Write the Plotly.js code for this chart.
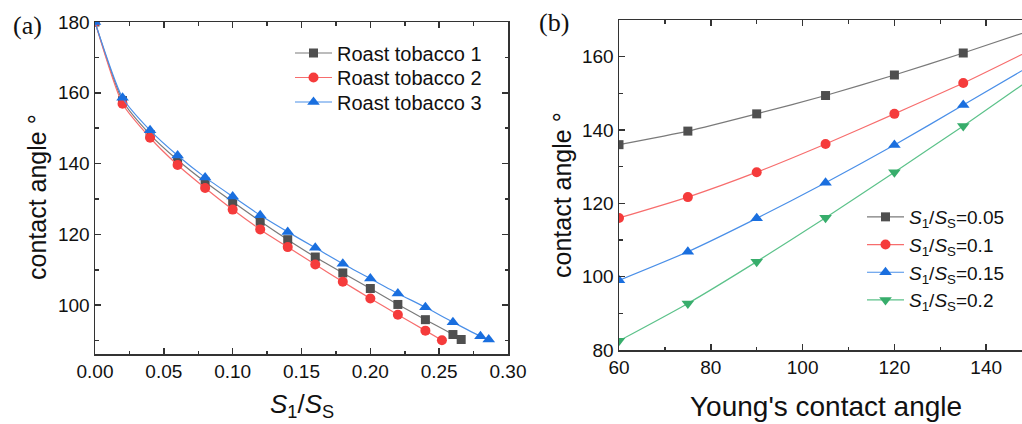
<!DOCTYPE html>
<html>
<head>
<meta charset="utf-8">
<script src="https://cdn.plot.ly/plotly-3.0.1.min.js"></script>
<style>html,body{margin:0;padding:0;background:#fff;overflow:hidden}#chart{width:1022px;height:424px}</style>
</head>
<body>
<div id="chart"></div>
<script>
// Panel (a): contact angle vs S1/SS
const xA1 = [0, 0.02, 0.04, 0.06, 0.08, 0.10, 0.12, 0.14, 0.16, 0.18, 0.20, 0.22, 0.24, 0.26, 0.266];
const yA1 = [180, 157.8, 148.2, 141.0, 134.8, 129.2, 123.7, 118.5, 113.6, 109.1, 104.7, 100.2, 95.9, 91.7, 90.3];
const xA2 = [0, 0.02, 0.04, 0.06, 0.08, 0.10, 0.12, 0.14, 0.16, 0.18, 0.20, 0.22, 0.24, 0.252];
const yA2 = [180, 156.9, 147.3, 139.6, 133.1, 127.0, 121.4, 116.4, 111.5, 106.6, 101.9, 97.3, 92.8, 90.1];
const xA3 = [0, 0.02, 0.04, 0.06, 0.08, 0.10, 0.12, 0.14, 0.16, 0.18, 0.20, 0.22, 0.24, 0.26, 0.28, 0.286];
const yA3 = [180, 158.6, 149.4, 142.3, 136.1, 130.7, 125.4, 120.7, 116.2, 111.7, 107.5, 103.3, 99.4, 95.2, 91.2, 90.3];
const namesA = ["Roast tobacco 1", "Roast tobacco 2", "Roast tobacco 3"];

// Panel (b): contact angle vs Young's contact angle
const xB = [60, 75, 90, 105, 120, 135, 150];
const yB005 = [136.0, 139.7, 144.4, 149.4, 155.0, 161.0, 167.3];
const yB010 = [116.0, 121.7, 128.5, 136.2, 144.4, 152.8, 162.0];
const yB015 = [99.0, 106.8, 115.9, 125.6, 135.9, 146.8, 157.8];
const yB020 = [82.5, 92.7, 104.1, 116.1, 128.5, 141.1, 154.2];
const namesB = ["<i>S</i><sub>1</sub>/<i>S</i><sub>S</sub>=0.05", "<i>S</i><sub>1</sub>/<i>S</i><sub>S</sub>=0.1",
                "<i>S</i><sub>1</sub>/<i>S</i><sub>S</sub>=0.15", "<i>S</i><sub>1</sub>/<i>S</i><sub>S</sub>=0.2"];

const colors = ["#4f4f4f", "#F53B3B", "#1A6FDF", "#37AD6B"];
const lineColors = ["#7a7a7a", "#f76d6d", "#4a8fe8", "#5cc28a"];
const W = 1022, H = 424;
const px = v => v / W, py = v => (H - v) / H;

function tr(x, y, name, i, sym, size, xa, ya, leg) {
  return {x: x, y: y, name: name, type: "scatter", mode: "lines+markers",
    xaxis: xa, yaxis: ya, legend: leg,
    line: {color: lineColors[i], width: 1.2, shape: "spline", smoothing: 0.6},
    marker: {color: colors[i], symbol: sym, size: size}};
}

const data = [
  tr(xA1, yA1, namesA[0], 0, "square", 9, "x", "y", "legend"),
  tr(xA2, yA2, namesA[1], 1, "circle", 10, "x", "y", "legend3"),
  tr(xA3, yA3, namesA[2], 2, "triangle-up", 11, "x", "y", "legend4"),
  tr(xB, yB005, namesB[0], 0, "square", 9, "x2", "y2", "legend2"),
  tr(xB, yB010, namesB[1], 1, "circle", 10, "x2", "y2", "legend2"),
  tr(xB, yB015, namesB[2], 2, "triangle-up", 11, "x2", "y2", "legend2"),
  tr(xB, yB020, namesB[3], 3, "triangle-down", 11, "x2", "y2", "legend2")
];

const axCommon = {showgrid: false, zeroline: false, showline: true, linecolor: "#333", linewidth: 1.5,
  ticks: "inside", ticklen: 6, tickwidth: 1.5, tickcolor: "#333",
  tickfont: {family: "Liberation Sans, Arial", size: 19, color: "#111"}};
const minorT = d => ({ticks: "inside", ticklen: 3.5, dtick: d, tickcolor: "#333", tickwidth: 1.5});

const legA = y => ({x: px(290), y: py(y), xanchor: "left", yanchor: "top", bgcolor: "rgba(0,0,0,0)",
  font: {family: "Liberation Sans, Arial", size: 20, color: "#111"}, itemwidth: 37});

const ann = (text, x, y, size, family, extra) => Object.assign({text: text, x: px(x), y: py(y),
  xref: "paper", yref: "paper", showarrow: false, xanchor: "center", yanchor: "middle",
  font: {family: family, size: size, color: "#111"}}, extra || {});

const layout = {
  width: W, height: H, margin: {l: 0, r: 0, t: 0, b: 0},
  paper_bgcolor: "#fff", plot_bgcolor: "#fff", showlegend: true,
  font: {family: "Liberation Sans, Arial", color: "#111"},
  xaxis: Object.assign({}, axCommon, {domain: [px(95), px(508)], range: [0, 0.30], dtick: 0.05, tick0: 0,
    tickformat: ".2f", mirror: "ticks", anchor: "y", minor: minorT(0.025)}),
  yaxis: Object.assign({}, axCommon, {domain: [py(354), py(22)], range: [86.2, 180], dtick: 20, tick0: 100,
    mirror: "ticks", anchor: "x", minor: minorT(10)}),
  xaxis2: Object.assign({}, axCommon, {domain: [px(619), 1], range: [60, 147.8], dtick: 20, tick0: 60,
    mirror: "ticks", anchor: "y2", minor: minorT(10)}),
  yaxis2: Object.assign({}, axCommon, {domain: [py(350), py(20)], range: [80, 170], dtick: 20, tick0: 80,
    mirror: false, anchor: "x2", minor: minorT(10)}),
  legend: legA(33.5),
  legend3: legA(58),
  legend4: legA(82.5),
  legend2: {x: px(862), y: py(198), xanchor: "left", yanchor: "top", bgcolor: "rgba(0,0,0,0)",
    font: {family: "Liberation Sans, Arial", size: 19, color: "#111"}, itemwidth: 37},
  annotations: [
    ann("(a)", 27, 25, 26, "Liberation Serif, Times New Roman"),
    ann("(b)", 554, 23, 26, "Liberation Serif, Times New Roman"),
    ann("contact angle °", 37, 197, 25, "Liberation Sans, Arial", {textangle: -90}),
    ann("contact angle °", 562, 195, 25, "Liberation Sans, Arial", {textangle: -90}),
    ann("<i>S</i><sub>1</sub>/<i>S</i><sub>S</sub>", 302, 405, 26, "Liberation Sans, Arial"),
    ann("Young's contact angle", 826, 406, 28, "Liberation Sans, Arial")
  ]
};

Plotly.newPlot("chart", data, layout, {staticPlot: true, displayModeBar: false});
</script>
</body>
</html>
